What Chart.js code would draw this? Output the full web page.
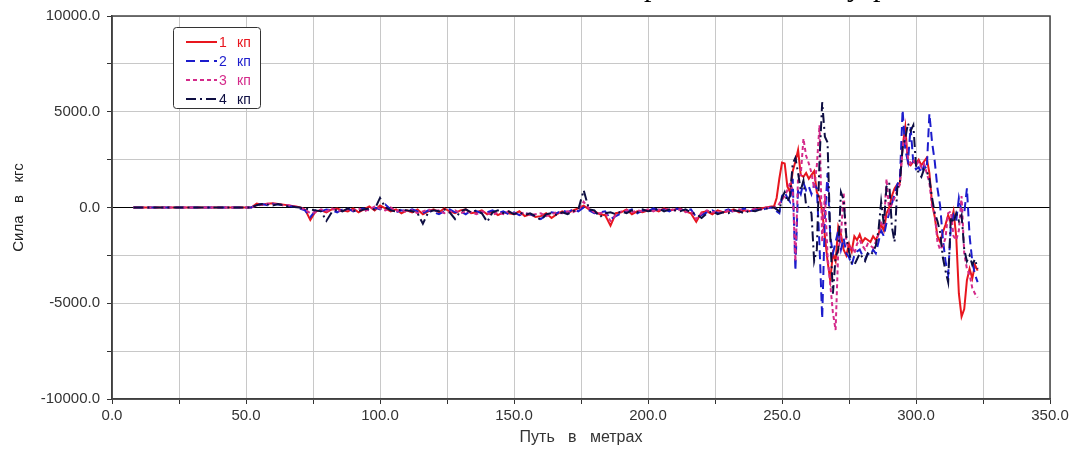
<!DOCTYPE html>
<html>
<head>
<meta charset="utf-8">
<script src="https://cdn.jsdelivr.net/npm/chart.js@4.4.1/dist/chart.umd.min.js"></script>
<style>
  html, body { margin: 0; padding: 0; background: #fff; }
  #wrap { position: relative; width: 1072px; height: 449px; overflow: hidden; }
  .frag { position: absolute; top: -31px; font-family: "Liberation Serif", serif; font-size: 30px; line-height: 34px; color: #000; }
</style>
</head>
<body>
<div id="wrap">
  <canvas id="ForceChart" width="1072" height="449"></canvas>
  <span class="frag" style="left:644px">р</span>
  <span class="frag" style="left:847px">у</span>
  <span class="frag" style="left:873px">р</span>
</div>
<script>
// путь в метрах
const dist = [8,
  52,54,56,58,60,62,64,66,68,70, 72,74,76,78,80,82,84,86,88,90,
  92,94,96,98,100,102,104,106,108,110, 112,114,116,118,120,122,124,126,128,130,
  132,134,136,138,140,142,144,146,148,150, 152,154,156,158,160,162,164,166,168,170,
  172,174,176,178,180,182,184,186,188,190, 192,194,196,198,200,202,204,206,208,210,
  212,214,216,218,220,222,224,226,228,230, 232,234,236,238,240,242,244,246,
  247,248,249,250,251,252,253,254,255,256, 257,258,259,260,261,262,263,264,265,266,
  267,268,269,270,271,272,273,274,275,276, 277,278,279,280,281,282,283,284,285,286,
  287,288,289,290,291,292,293,294,295,296, 297,298,299,300,301,302,303,304,305,306,
  307,308,309,310,311,312,313,314,315,316, 317,318,319,320,321,322,323];

// сила в кгс
const kp1 = [0,
  0,200,150,200,220,180,150,100,60,20, -100,-650,-200,-150,-250,-100,-50,-150,-200,-50,
  -250,-100,50,-150,100,-50,-200,-100,-300,-150, -250,-100,-350,-200,-100,-250,-50,-200,-300,-150,
  -100,-300,-250,-150,-350,-200,-400,-250,-300,-350, -200,-450,-350,-500,-450,-300,-550,-350,-200,-300,
  -150,-50,100,-100,-200,-350,-400,-950,-300,-250, -100,-350,-200,-250,-150,-100,-200,-50,-150,-100,
  -50,-200,-300,-750,-250,-200,-350,-150,-250,-200, -100,-250,-150,-200,-100,-50,0,50,
  50,500,1500,2350,2300,1100,800,1900,2400,3000, 1700,1600,1800,1500,1700,1900,800,500,-200,-1500,
  -2800,-3800,-2400,-2800,-1000,-1400,-2200,-2500,-1900,-2300, -1500,-1700,-1400,-1800,-1600,-1700,-1800,-1500,-1700,-1400,
  -900,-1200,-300,0,600,1000,1200,1300,3200,4200, 2300,2200,2400,2300,2500,2200,2400,2600,1800,200,
  -500,-1500,-1800,-1300,-900,-400,-800,-200,-1500,-4500, -5700,-5300,-3800,-3200,-3700,-3000,-3300];

const kp2 = [0,
  0,150,180,120,200,150,120,80,40,-50, -150,-500,-150,-200,-100,-150,-250,-100,-50,-200,
  -100,-50,-150,0,-100,150,-100,-250,-150,-200, -100,-200,-300,-150,-250,-350,-200,-100,-250,-200,
  -350,-150,-200,-300,-250,-150,-300,-200,-350,-250, -400,-300,-350,-450,-600,-400,-250,-300,-150,-250,
  -100,-200,0,-150,-300,-250,-200,-600,-450,-300, -200,-100,-300,-150,-200,-50,-150,-100,-200,-50,
  -100,-150,-100,-500,-400,-250,-150,-300,-200,-100, -250,-150,-50,-200,-100,-150,-50,0,
  -50,-200,-300,600,800,500,300,1500,-3300,1000, 700,1300,900,1100,700,1200,1000,-2000,-5800,-500,
  1800,-1500,-2400,-1800,-1200,-2200,-1600,-2400,-2600,-3000, -2500,-2300,-2200,-2500,-2700,-2400,-2500,-2200,-2400,-1800,
  -1200,-1500,-800,-300,200,700,1200,1500,5100,3000, 2400,4200,2300,2000,2100,1800,2200,2000,4900,3400,
  2400,1000,100,-1600,-2800,-3500,-1000,-400,-700,500, -200,-300,1000,-1500,-2800,-3500,-3900];

const kp3 = [0,
  0,100,150,200,150,200,100,120,50,0, -100,-300,-250,-100,-200,-50,-150,-200,-100,-150,
  -50,-200,-100,50,-50,-150,0,-200,-100,-250, -150,-300,-200,-100,-200,-150,-300,-250,-150,-300,
  -200,-250,-350,-200,-300,-400,-250,-350,-200,-300, -350,-250,-400,-350,-300,-450,-350,-250,-300,-200,
  -250,-100,300,-50,-250,-300,-250,-700,-400,-200, -150,-250,-150,-200,-100,-200,-100,-150,-50,-150,
  -100,-250,-200,-600,-300,-150,-250,-200,-300,-150, -200,-100,-200,-150,-50,-100,0,0,
  0,50,200,400,600,900,1300,900,-2800,1600, 1700,3600,2700,2300,1800,1000,2200,4300,-1800,700,
  -2500,-4000,-5500,-6400,-2200,-1500,800,-1800,-2200,-2000, -2400,-1900,-1700,-2000,-2200,-1900,-2000,-2100,-1800,-1400,
  -800,-1000,1500,-200,200,500,900,1200,3200,3700, 2600,2300,2500,2200,2400,2100,2300,1800,1300,0,
  -300,-1800,-2200,-2000,-1600,-300,-200,-1500,-1700,-1200, 600,-2400,-3200,-3500,-4200,-4500,-4700];

const kp4 = [0,
  0,120,180,150,100,180,120,50,30,0, -50,-100,-150,-200,-700,-250,-100,-200,-50,-150,
  -200,-100,-50,-100,500,0,-150,-200,-100,-150, -200,-300,-850,-250,-150,-200,-100,-250,-600,-200,
  -100,-250,-150,-300,-750,-250,-150,-300,-200,-350, -250,-400,-300,-450,-650,-350,-300,-400,-250,-350,
  -200,-100,900,-100,-150,-500,-300,-250,-350,-200, -300,-150,-250,-100,-200,-150,-50,-200,-100,-150,
  -200,-100,-250,-350,-550,-300,-200,-350,-250,-300, -150,-200,-300,-150,-200,-100,-50,0,
  0,-100,-200,500,800,300,600,2300,2600,1800, 900,1400,100,0,-300,-2800,-2200,2500,5500,3700,
  3400,-1500,-4500,-2600,-2200,800,400,-1500,-2300,-2900, -3000,-2700,-2400,-2600,-2800,-2400,-2500,-2300,-2000,-1200,
  300,-900,1100,1300,-1000,-1800,1000,1300,3100,3600, 4400,4000,4300,2200,1800,1600,2000,1900,1500,500,
  -300,-700,-1300,-2600,-3300,-3900,-500,-800,-300,-700, -400,-2200,-2800,-2500,-3000,-2700,-3200];

const seriesNums = ["1", "2", "3", "4"];
const seriesColors = ["#e8161e", "#1c1ccc", "#d42a8a", "#0e0e42"];
const seriesDash = [[], [9, 5], [4, 3], [10, 4, 2, 4]];

const FONT = "'Liberation Sans', Arial, sans-serif";

const legendBox = {
  id: "legendBox",
  afterDraw(chart) {
    const ctx = chart.ctx;
    const a = chart.chartArea;
    ctx.save();
    // рамка графика
    ctx.strokeStyle = "#444";
    ctx.lineWidth = 1.5;
    ctx.strokeRect(a.left, a.top, a.right - a.left, a.bottom - a.top);
    // легенда
    ctx.beginPath();
    ctx.roundRect(173.5, 27.5, 87, 81, 3);
    ctx.fillStyle = "#fff";
    ctx.fill();
    ctx.lineWidth = 1;
    ctx.strokeStyle = "#333";
    ctx.stroke();
    chart.data.datasets.forEach((ds, i) => {
      const y = 42 + i * 19;
      ctx.beginPath();
      ctx.setLineDash(ds.borderDash);
      ctx.strokeStyle = ds.borderColor;
      ctx.lineWidth = 2;
      ctx.moveTo(186, y);
      ctx.lineTo(217, y);
      ctx.stroke();
      ctx.setLineDash([]);
      ctx.fillStyle = ds.borderColor;
      ctx.font = "14px " + FONT;
      ctx.textBaseline = "middle";
      ctx.textAlign = "left";
      const parts = ds.label.split(" ");
      ctx.fillText(parts[0], 219, y + 1);
      ctx.fillText(parts[1], 237, y + 1);
    });
    ctx.restore();
  }
};

const datasets = [kp1, kp2, kp3, kp4].map((vals, i) => ({
  label: seriesNums[i] + " кп",
  data: dist.map((x, j) => ({ x: x, y: vals[j] })),
  borderColor: seriesColors[i],
  backgroundColor: seriesColors[i],
  borderDash: seriesDash[i],
  borderWidth: 2,
  pointRadius: 0,
  tension: 0,
  fill: false,
  order: 4 - i,
}));

var ctx = document.getElementById("ForceChart").getContext("2d");
var ForceChart = new Chart(ctx, {
  type: "line",
  data: { datasets: datasets },
  options: {
    responsive: false,
    animation: false,
    layout: { padding: { left: 0, right: 22, top: 15, bottom: 0 } },
    plugins: { legend: { display: false }, tooltip: { enabled: false } },
    scales: {
      x: {
        type: "linear",
        min: 0,
        max: 350,
        afterFit: (s) => { s.height = 50; },
        border: { color: "#333", width: 1.5 },
        grid: { color: "#c8c8c8", lineWidth: 1, tickLength: 5, tickColor: "#333" },
        ticks: {
          stepSize: 25,
          autoSkip: false,
          maxRotation: 0,
          padding: 3,
          color: "#333",
          font: { family: FONT, size: 15 },
          callback: (v) => (v % 50 === 0 ? v.toFixed(1) : ""),
        },
        title: {
          display: true,
          text: "Путь   в   метрах",
          color: "#333",
          font: { family: FONT, size: 16 },
          padding: { top: 0, bottom: 2 },
        },
      },
      y: {
        min: -10000,
        max: 10000,
        afterFit: (s) => { s.width = 112; },
        border: { color: "#333", width: 1.5 },
        grid: {
          color: (c) => (c.tick && c.tick.value === 0 ? "#000" : "#c8c8c8"),
          lineWidth: 1,
          tickLength: 5,
          tickColor: "#333",
        },
        ticks: {
          stepSize: 2500,
          autoSkip: false,
          padding: 7,
          color: "#333",
          font: { family: FONT, size: 15 },
          callback: (v) => (v % 5000 === 0 ? v.toFixed(1) : ""),
        },
        title: {
          display: true,
          text: "Сила   в   кгс",
          color: "#222",
          font: { family: FONT, size: 15 },
          padding: { top: 10, bottom: 0 },
        },
      },
    },
  },
  plugins: [legendBox],
});
</script>
</body>
</html>
